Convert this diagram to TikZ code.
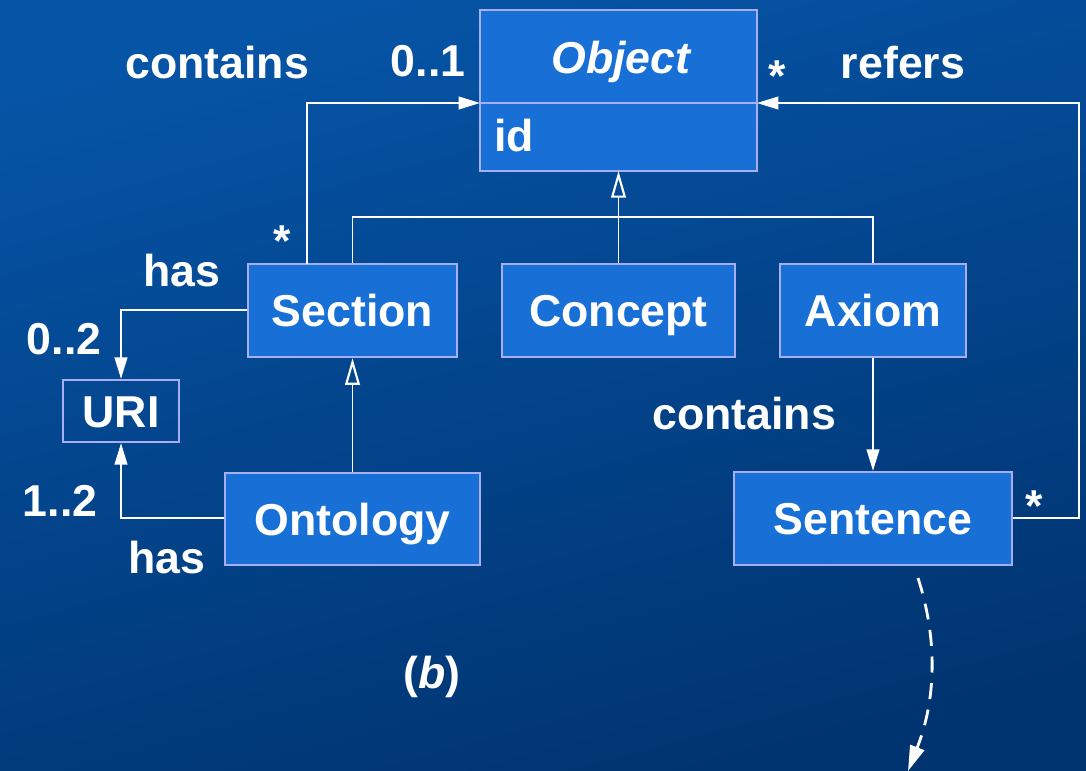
\documentclass[tikz,border=0pt]{standalone}
\usepackage{fontspec}
\setmainfont{Liberation Sans}
\usetikzlibrary{arrows.meta,shadings}
\definecolor{bgtop}{HTML}{0654A6}
\definecolor{bgbot}{HTML}{003470}
\definecolor{boxfill}{HTML}{1870D6}
\definecolor{boxline}{HTML}{A8AEF4}
\begin{document}
\begin{tikzpicture}[x=0.75pt,y=-0.75pt,
  cls/.style={draw=boxline,line width=1.8pt,fill=boxfill,text=white,font=\fontsize{33.5}{40}\selectfont\bfseries,inner sep=0pt,text height=24pt,text depth=0pt},
  lbl/.style={text=white,font=\fontsize{33.5}{40}\selectfont\bfseries,inner sep=0pt,text height=24pt,text depth=0pt},
  conn/.style={draw=white,line width=1.4pt},
  assoc/.style={conn,-{Triangle[length=16pt,width=9.5pt]}},
  gen/.style={conn,-{Triangle[open,length=20pt,width=11pt,fill=none,line width=1.6pt]}}]
\shade[shading=axis,top color=bgtop,bottom color=bgbot,shading angle=15] (0,0) rectangle (1086,771);
\useasboundingbox (0,0) rectangle (1086,771);
% boxes
\node[cls,minimum width=277*0.75pt,minimum height=161*0.75pt] (obj) at (618.5,90.5) {};
\draw[draw=boxline,line width=1.8pt] (480,103) -- (757,103);
\node[lbl,font=\fontsize{33.5}{40}\selectfont\bfseries\itshape] (objname) at (621,57) {Object};
\node[lbl,anchor=west] (id) at (494,135) {id};
\node[cls,minimum width=209*0.75pt,minimum height=93*0.75pt] (sec) at (352.5,310.5) {Section};
\node[cls,minimum width=233*0.75pt,minimum height=93*0.75pt] (con) at (618.5,310.5) {Concept};
\node[cls,minimum width=186*0.75pt,minimum height=93*0.75pt] (axi) at (873,310.5) {Axiom};
\node[cls,minimum width=116*0.75pt,minimum height=62*0.75pt,fill=none] (uri) at (121,411) {URI};
\node[cls,minimum width=255*0.75pt,minimum height=92*0.75pt] (ont) at (352.5,519) {Ontology};
\node[cls,minimum width=278*0.75pt,minimum height=93*0.75pt] (sen) at (873,518.5) {Sentence};
% coordinates
\coordinate (objL) at (480,103);
\coordinate (objR) at (757,103);
\coordinate (objB) at (618.5,171);
% generalisation
\draw[gen] (con.north) -- (objB);
\draw[conn] (sec.north) -- (352.5,217) -- (873,217) -- (axi.north);
\draw[gen] (ont.north) -- (sec.south);
% associations
\draw[assoc] (307,264) -- (307,103) -- (objL);
\draw[assoc] (sec.west |- 0,310) -- (121,310) -- (uri.north);
\draw[assoc] (ont.west |- 0,518) -- (121,518) -- (uri.south);
\draw[assoc] (axi.south) -- (sen.north);
\draw[assoc] (sen.east |- 0,518) -- (1079,518) -- (1079,103) -- (objR);
% dashed curve
\coordinate (dstart) at (918,578);
\coordinate (dend) at (908,771);
\draw[draw=white,line width=2.1pt,dash pattern=on 12pt off 8pt,-{Triangle[length=19pt,width=11pt]}] (dstart) .. controls (938,640) and (936,700) .. (dend);
% labels
\node[lbl] (l1) at (217,62) {contains};
\node[lbl] (l2) at (428,60) {0..1};
\node[lbl] (l3) at (282,240) {*};
\node[lbl] (l4) at (182,270) {has};
\node[lbl] (l5) at (64,338) {0..2};
\node[lbl] (l6) at (60,500) {1..2};
\node[lbl] (l7) at (167,557) {has};
\node[lbl] (l8) at (744,413) {contains};
\node[lbl] (l9) at (777,75) {*};
\node[lbl] (l10) at (903,62) {refers};
\node[lbl] (l11) at (1034,505) {*};
\node[lbl] (l12) at (432,672) {(\textit{b})};
\end{tikzpicture}
\end{document}
